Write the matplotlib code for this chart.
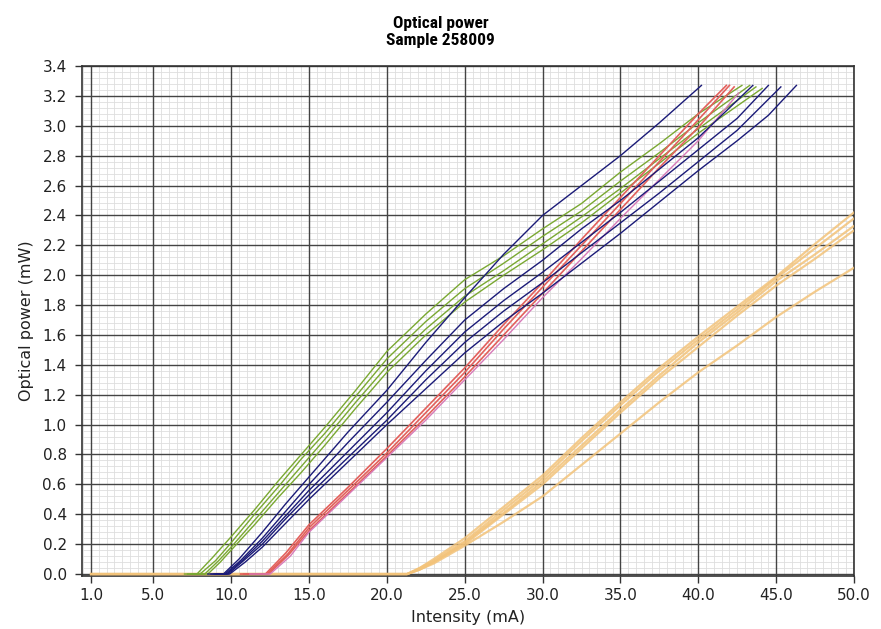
import matplotlib
matplotlib.use("Agg")
import matplotlib.pyplot as plt
from matplotlib import font_manager
from matplotlib.ticker import MultipleLocator, FormatStrFormatter
import numpy as np

# intensity (mA) / optical power (mW) readings per curve, grouped by colour
green_x = [
    [7.0, 7.8, 8.8, 10.0, 11.5, 13.0, 14.5, 16.0, 18.0, 20.0, 22.5, 25.0, 27.5, 30.0, 32.5, 35.0, 37.5, 40.0, 42.8],
    [7.2, 8.0, 9.0, 10.0, 11.5, 13.0, 14.5, 16.0, 18.0, 20.0, 22.5, 25.0, 27.5, 30.0, 32.5, 35.0, 37.5, 40.0, 43.3],
    [7.4, 8.3, 9.2, 10.0, 11.5, 13.0, 14.5, 16.0, 18.0, 20.0, 22.5, 25.0, 27.5, 30.0, 32.5, 35.0, 37.5, 40.0, 43.7],
    [7.6, 8.5, 9.3, 10.0, 11.5, 13.0, 14.5, 16.0, 18.0, 20.0, 22.5, 25.0, 27.5, 30.0, 32.5, 35.0, 37.5, 40.0, 44.1],
]
green_y = [
    [0, 0, 0.11, 0.25, 0.43, 0.62, 0.80, 0.98, 1.23, 1.49, 1.74, 1.97, 2.13, 2.31, 2.48, 2.69, 2.88, 3.08, 3.27],
    [0, 0, 0.09, 0.21, 0.40, 0.58, 0.77, 0.94, 1.19, 1.44, 1.69, 1.91, 2.08, 2.26, 2.43, 2.63, 2.82, 3.02, 3.27],
    [0, 0, 0.09, 0.18, 0.36, 0.54, 0.72, 0.90, 1.15, 1.39, 1.64, 1.86, 2.03, 2.21, 2.39, 2.58, 2.78, 2.98, 3.26],
    [0, 0, 0.08, 0.16, 0.33, 0.51, 0.68, 0.86, 1.11, 1.35, 1.60, 1.82, 2.00, 2.17, 2.35, 2.55, 2.75, 2.95, 3.25],
]

blue_x = [
    [8.5, 9.5, 10.5, 12.0, 13.5, 15.0, 17.5, 20.0, 22.5, 25.0, 27.5, 30.0, 32.5, 35.0, 37.5, 40.2],
    [8.7, 9.6, 10.6, 12.0, 13.5, 15.0, 17.5, 20.0, 22.5, 25.0, 27.5, 30.0, 32.5, 35.0, 37.5, 40.0, 43.5],
    [8.9, 9.7, 10.7, 12.0, 13.5, 15.0, 17.5, 20.0, 22.5, 25.0, 27.5, 30.0, 32.5, 35.0, 37.5, 40.0, 42.5, 44.5],
    [9.0, 9.8, 10.8, 12.0, 13.5, 15.0, 17.5, 20.0, 22.5, 25.0, 27.5, 30.0, 32.5, 35.0, 37.5, 40.0, 42.5, 45.3],
    [9.1, 9.9, 10.9, 12.0, 13.5, 15.0, 17.5, 20.0, 22.5, 25.0, 27.5, 30.0, 32.5, 35.0, 37.5, 40.0, 42.5, 44.5, 46.3],
]
blue_y = [
    [0, 0, 0.10, 0.28, 0.47, 0.65, 0.95, 1.23, 1.55, 1.85, 2.14, 2.40, 2.60, 2.80, 3.02, 3.27],
    [0, 0, 0.09, 0.24, 0.42, 0.60, 0.88, 1.15, 1.43, 1.70, 1.91, 2.10, 2.31, 2.50, 2.71, 2.92, 3.27],
    [0, 0, 0.09, 0.22, 0.39, 0.56, 0.82, 1.08, 1.36, 1.62, 1.83, 2.02, 2.22, 2.42, 2.63, 2.84, 3.05, 3.27],
    [0, 0, 0.09, 0.20, 0.37, 0.53, 0.78, 1.03, 1.30, 1.55, 1.76, 1.95, 2.15, 2.35, 2.55, 2.76, 2.97, 3.26],
    [0, 0, 0.08, 0.18, 0.34, 0.50, 0.75, 1.00, 1.24, 1.48, 1.69, 1.88, 2.08, 2.28, 2.49, 2.70, 2.90, 3.07, 3.27],
]

red_x = [
    [10.6, 12.2, 13.5, 15.0, 17.5, 20.0, 22.5, 25.0, 27.5, 30.0, 32.5, 35.0, 37.5, 40.0, 41.8],
    [10.8, 12.3, 13.6, 15.0, 17.5, 20.0, 22.5, 25.0, 27.5, 30.0, 32.5, 35.0, 37.5, 40.0, 42.0],
    [11.0, 12.4, 13.7, 15.0, 17.5, 20.0, 22.5, 25.0, 27.5, 30.0, 32.5, 35.0, 37.5, 40.0, 42.3],
]
red_y = [
    [0, 0, 0.14, 0.33, 0.58, 0.84, 1.11, 1.38, 1.67, 1.95, 2.24, 2.52, 2.80, 3.08, 3.27],
    [0, 0, 0.13, 0.31, 0.56, 0.81, 1.08, 1.35, 1.64, 1.92, 2.20, 2.48, 2.76, 3.04, 3.27],
    [0, 0, 0.13, 0.29, 0.54, 0.79, 1.05, 1.32, 1.60, 1.88, 2.16, 2.44, 2.72, 2.99, 3.26],
]

pink_x = [11.2, 12.5, 13.8, 15.0, 17.5, 20.0, 22.5, 25.0, 27.5, 30.0, 32.5, 35.0, 37.5, 40.0, 42.6]
pink_y = [0, 0, 0.12, 0.28, 0.53, 0.78, 1.03, 1.30, 1.57, 1.85, 2.11, 2.38, 2.64, 2.90, 3.22]

orange_x = [1.0, 21.3, 22.1, 23.0, 25.0, 27.5, 30.0, 32.5, 35.0, 37.5, 40.0, 42.5, 45.0, 47.5, 50.0]
orange_y = [
    [0, 0, 0.04, 0.10, 0.24, 0.45, 0.66, 0.91, 1.15, 1.38, 1.59, 1.79, 1.99, 2.21, 2.42],
    [0, 0, 0.04, 0.09, 0.22, 0.43, 0.64, 0.89, 1.13, 1.36, 1.57, 1.77, 1.98, 2.18, 2.38],
    [0, 0, 0.03, 0.08, 0.21, 0.41, 0.62, 0.86, 1.10, 1.33, 1.55, 1.75, 1.96, 2.14, 2.33],
    [0, 0, 0.03, 0.08, 0.20, 0.40, 0.60, 0.84, 1.08, 1.31, 1.52, 1.73, 1.93, 2.11, 2.30],
    [0, 0, 0.03, 0.07, 0.19, 0.35, 0.52, 0.73, 0.94, 1.15, 1.35, 1.53, 1.72, 1.89, 2.05],
]

x_ticks = [1.0, 5.0, 10.0, 15.0, 20.0, 25.0, 30.0, 35.0, 40.0, 45.0, 50.0]

# narrow bold face for the title if one is installed
installed = {f.name for f in font_manager.fontManager.ttflist}
title_font, title_size = "DejaVu Sans", 10.5
for name in ["Liberation Sans Narrow", "DejaVu Sans Condensed", "Roboto Condensed", "Open Sans Condensed"]:
    if name in installed:
        title_font, title_size = name, 12.5
        break

fig = plt.figure(figsize=(8.81, 6.29), dpi=100)
ax = fig.add_axes([0.0931, 0.0843, 0.8763, 0.8108])

# light minor grid under everything
ax.vlines(np.arange(0.5, 50.0, 0.5), -0.013, 3.4, color="#dedede", lw=0.6, zorder=0.1)
ax.hlines(np.arange(0.04, 3.4, 0.04), 0.42, 50.0, color="#dedede", lw=0.6, zorder=0.1)

# orange first so the others sit on top
for ys in orange_y:
    ax.plot(orange_x, ys, color="#f3c37a", lw=1.6, alpha=0.85, zorder=3)
for xs, ys in zip(green_x, green_y):
    ax.plot(xs, ys, color="#7aa832", lw=1.0, zorder=4)
for xs, ys in zip(red_x, red_y):
    ax.plot(xs, ys, color="#e2605c", lw=1.2, zorder=4)
ax.plot(pink_x, pink_y, color="#d77ab8", lw=1.0, zorder=4)
for xs, ys in zip(blue_x, blue_y):
    ax.plot(xs, ys, color="#1b1b78", lw=1.0, zorder=5)

ax.set_xlim(0.42, 50.0)
ax.set_ylim(-0.013, 3.4)
ax.set_xticks(x_ticks)
ax.xaxis.set_major_formatter(FormatStrFormatter("%.1f"))
ax.yaxis.set_major_locator(MultipleLocator(0.2))
ax.yaxis.set_major_formatter(FormatStrFormatter("%.1f"))

ax.grid(which="major", color="#444444", lw=1.0)
ax.set_axisbelow(True)
ax.tick_params(which="major", direction="out", length=5, width=1, color="#333333",
               labelsize=11, labelcolor="#222222", pad=4)
ax.tick_params(axis="y", pad=6)
for sp in ax.spines.values():
    sp.set_color("#333333")
    sp.set_linewidth(1.2)

ax.set_xlabel("Intensity (mA)", fontsize=11.5, color="#222222", labelpad=5)
ax.set_ylabel("Optical power (mW)", fontsize=11.5, color="#222222", labelpad=6)

fig.text(0.5, 0.949, "Optical power\nSample 258009", ha="center", va="center",
         fontsize=title_size, fontweight="bold", linespacing=1.1, family=title_font)

fig.savefig("out.png", dpi=100)
